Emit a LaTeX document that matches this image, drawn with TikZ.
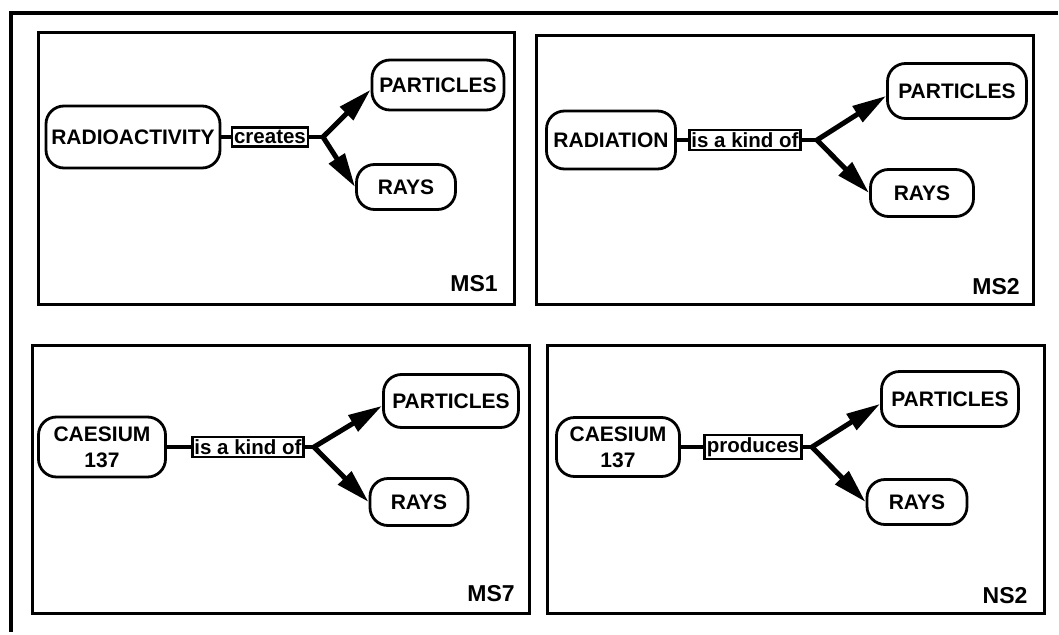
\documentclass[tikz,border=0pt]{standalone}
\usepackage{fontspec}
\setmainfont{Liberation Sans}
\usepackage{tikz}
\usetikzlibrary{arrows.meta,positioning}

\tikzset{
  concept/.style={draw,line width=2.8pt,rounded corners=18pt,align=center,
    minimum height=48pt,inner xsep=3pt,font=\bfseries\fontsize{21}{26}\selectfont},
  linkbox/.style={draw,line width=2.8pt,inner xsep=2pt,inner ysep=2.5pt,
    font=\bfseries\fontsize{20.5}{24}\selectfont},
  flow/.style={line width=5pt,-{Triangle[length=34pt,width=18pt]}},
  tie/.style={line width=3.5pt},
  panel/.style={draw,line width=3pt},
  tag/.style={font=\bfseries\fontsize{23}{27}\selectfont}
}

\begin{document}
\begin{tikzpicture}[x=1pt,y=-1pt]
  \useasboundingbox (0,0) rectangle (1059,634);
  \draw[line width=4.5pt] (1058,13) -- (11,13) -- (11,632);

  \draw[panel] (38,33) rectangle (514,304);
  \node[concept,minimum width=174pt,minimum height=62pt] (ra1) at (133,137) {RADIOACTIVITY};
  \node[linkbox] (cr1) at (270,137) {creates};
  \coordinate (b1) at (323,137);
  \node[concept,minimum width=132pt,minimum height=50pt] (p1) at (438,85) {PARTICLES};
  \node[concept,minimum width=99pt,minimum height=45pt] (r1) at (406,187) {RAYS};
  \draw[tie] (ra1) -- (cr1) -- (b1);
  \draw[flow] (b1) -- (p1.184);
  \draw[flow] (b1) -- (r1.west);
  \node[tag] (ms1) at (474,284) {MS1};

  \draw[panel] (536,36) rectangle (1033,304);
  \node[concept,minimum width=129pt,minimum height=58pt] (rd2) at (611,140) {RADIATION};
  \node[linkbox] (k2) at (745,140) {is a kind of};
  \coordinate (b2) at (817,140);
  \node[concept,minimum width=139pt,minimum height=55pt] (p2) at (957,91) {PARTICLES};
  \node[concept,minimum width=103pt,minimum height=47pt] (r2) at (922,193) {RAYS};
  \draw[tie] (rd2) -- (k2) -- (b2);
  \draw[flow] (b2) -- (p2.184);
  \draw[flow] (b2) -- (r2.west);
  \node[tag] (ms2) at (996,287) {MS2};

  \draw[panel] (32,345) rectangle (529,613);
  \node[concept,minimum width=127pt,minimum height=60pt] (cs7) at (102,447) {CAESIUM\\137};
  \node[linkbox] (k7) at (248,447) {is a kind of};
  \coordinate (b7) at (314,447);
  \node[concept,minimum width=135pt,minimum height=53pt] (p7) at (451,401) {PARTICLES};
  \node[concept,minimum width=98pt,minimum height=47pt] (r7) at (419,502) {RAYS};
  \draw[tie] (cs7) -- (k7) -- (b7);
  \draw[flow] (b7) -- (p7.184);
  \draw[flow] (b7) -- (r7.west);
  \node[tag] (ms7) at (491,594) {MS7};

  \draw[panel] (547,345) rectangle (1044,613);
  \node[concept,minimum width=123pt,minimum height=59pt] (cs8) at (618,447) {CAESIUM\\137};
  \node[linkbox] (pr8) at (753,447) {produces};
  \coordinate (b8) at (812,447);
  \node[concept,minimum width=137pt,minimum height=55pt] (p8) at (950,399) {PARTICLES};
  \node[concept,minimum width=100pt,minimum height=45pt] (r8) at (917,502) {RAYS};
  \draw[tie] (cs8) -- (pr8) -- (b8);
  \draw[flow] (b8) -- (p8.184);
  \draw[flow] (b8) -- (r8.west);
  \node[tag] (ns2) at (1005,596) {NS2};
\end{tikzpicture}
\end{document}
